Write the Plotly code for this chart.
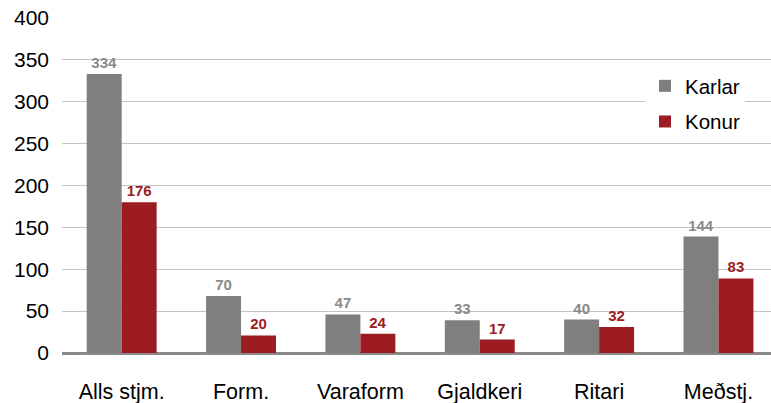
import plotly.graph_objects as go

categories = ["Alls stjm.", "Form.", "Varaform", "Gjaldkeri", "Ritari", "Meðstj."]
karlar_heights = [333, 68, 46, 39, 40, 139]
konur_heights = [180, 21, 23, 16, 31, 89]
karlar_labels = ["334", "70", "47", "33", "40", "144"]
konur_labels = ["176", "20", "24", "17", "32", "83"]
y_ticks = [0, 50, 100, 150, 200, 250, 300, 350, 400]

GRAY = "#7f7f7f"
RED = "#9c1c21"
FONT = "Liberation Sans, Arial, Helvetica, sans-serif"

fig = go.Figure()
fig.add_trace(go.Bar(
    name="Karlar", x=categories, y=karlar_heights,
    text=karlar_labels, textposition="outside", texttemplate="<b>%{text}</b>",
    textfont=dict(color="#8a8a8a", size=15, family=FONT),
    marker=dict(color=GRAY, line=dict(width=0)),
    cliponaxis=False, legendgroup="k",
))
fig.add_trace(go.Bar(
    name="Konur", x=categories, y=konur_heights,
    text=konur_labels, textposition="outside", texttemplate="<b>%{text}</b>",
    textfont=dict(color=RED, size=15, family=FONT),
    marker=dict(color=RED, line=dict(width=0)),
    cliponaxis=False, legendgroup="r",
))

fig.update_layout(
    width=771, height=403,
    margin=dict(l=62, r=0, t=18, b=50, autoexpand=False),
    paper_bgcolor="white", plot_bgcolor="white",
    font=dict(family=FONT, color="black", size=20.5),
    barmode="group", bargap=0.414, bargroupgap=0,
    showlegend=True,
    legend=dict(
        xref="container", yref="container",
        x=645 / 771, y=1 - 66 / 403, xanchor="left", yanchor="top",
        bgcolor="white", borderwidth=0,
        font=dict(size=20.5, family=FONT, color="black"),
        tracegroupgap=6,
        itemclick=False,
    ),
    xaxis=dict(
        range=[-0.5, 5.44], showgrid=False, showline=False,
        ticks="", ticklabelstandoff=23, automargin=False,
        tickfont=dict(size=21.5, family=FONT, color="black"),
    ),
    yaxis=dict(
        range=[0, 400], tickvals=y_ticks,
        showgrid=True, gridcolor="#c3c3c3", gridwidth=1.3,
        zeroline=True, zerolinecolor="#8a8a8a", zerolinewidth=3,
        showline=False, ticks="", ticklabelstandoff=12, automargin=False,
        tickfont=dict(size=21, family=FONT, color="black"),
    ),
)

fig.write_html(
    "out.html",
    config={"displayModeBar": False},
    post_script="document.body.style.margin='0';document.body.style.overflow='hidden';",
)
